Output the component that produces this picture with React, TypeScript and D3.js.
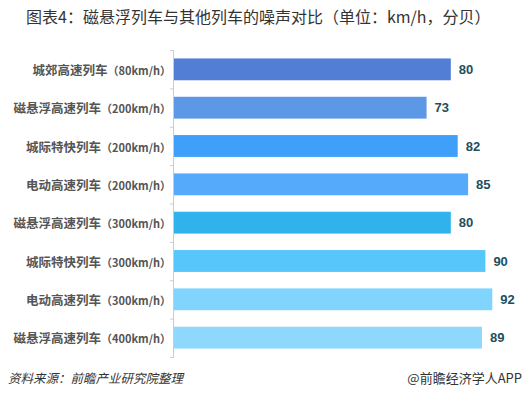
import { useEffect, useRef } from "react";
import * as d3 from "d3";

const trains = ["城郊高速列车", "磁悬浮高速列车", "城际特快列车", "电动高速列车", "磁悬浮高速列车", "城际特快列车", "电动高速列车", "磁悬浮高速列车"];
const speeds = ["80km/h", "200km/h", "200km/h", "200km/h", "300km/h", "300km/h", "300km/h", "400km/h"];
const noise = [80, 73, 82, 85, 80, 90, 92, 89];
const barColors = ["#527fd5", "#5c98e5", "#3fa0fb", "#55aafb", "#30b3ec", "#56c6fb", "#80d4fd", "#8dd8fc"];

const W = 524;
const H = 399;
const cjk = "'Noto Sans CJK SC', 'Microsoft YaHei', sans-serif";

function App() {
    const ref = useRef<SVGSVGElement>(null);

    useEffect(() => {
        const svg = d3.select(ref.current);
        svg.selectAll("*").remove();

        const left = 174;
        const top = 50;
        const bottom = 357;
        const ids = noise.map((_, i) => String(i));

        const x = d3.scaleLinear().domain([0, 100]).range([left, left + 346]);
        const y = d3.scaleBand().domain(ids).range([top, bottom]).paddingInner(0.43).paddingOuter(0.22);
        const rows = d3.scaleBand().domain(ids).range([top, bottom]);

        // title
        svg.append("text")
            .attr("x", 26)
            .attr("y", 23)
            .attr("font-family", cjk)
            .attr("font-size", 16)
            .attr("fill", "#333")
            .text("图表4：磁悬浮列车与其他列车的噪声对比（单位：km/h，分贝）");

        // axis line + ticks
        svg.append("line")
            .attr("x1", left - 0.5).attr("x2", left - 0.5)
            .attr("y1", top).attr("y2", bottom)
            .attr("stroke", "#ccc");
        svg.append("g")
            .selectAll("line")
            .data(ids.concat(["end"]))
            .join("line")
            .attr("x1", left - 4).attr("x2", left)
            .attr("y1", (d) => (d === "end" ? bottom : (rows(d) as number)) + 0.5)
            .attr("y2", (d) => (d === "end" ? bottom : (rows(d) as number)) + 0.5)
            .attr("stroke", "#ccc");

        // bars
        svg.append("g")
            .selectAll("rect")
            .data(noise)
            .join("rect")
            .attr("x", x(0))
            .attr("y", (_, i) => y(String(i)) as number)
            .attr("width", (d) => x(d) - x(0))
            .attr("height", y.bandwidth())
            .attr("fill", (_, i) => barColors[i]);

        // values
        svg.append("g")
            .selectAll("text")
            .data(noise)
            .join("text")
            .attr("x", (d) => x(d) + 8)
            .attr("y", (_, i) => (y(String(i)) as number) + y.bandwidth() / 2)
            .attr("dy", "0.36em")
            .attr("font-family", "Arial, 'Liberation Sans', sans-serif")
            .attr("font-weight", "bold")
            .attr("font-size", 13)
            .attr("fill", "#1d4e5e")
            .text((d) => d);

        // category labels
        const lab = svg.append("g")
            .selectAll("text")
            .data(trains)
            .join("text")
            .attr("x", 171)
            .attr("y", (_, i) => (y(String(i)) as number) + y.bandwidth() / 2)
            .attr("dy", "0.36em")
            .attr("text-anchor", "end")
            .attr("font-family", cjk)
            .attr("font-weight", "bold")
            .attr("fill", "#555");
        lab.append("tspan").attr("font-size", 12.5).text((d) => d);
        lab.append("tspan").attr("font-size", 11).text((_, i) => "（" + speeds[i] + "）");

        // footer
        svg.append("text")
            .attr("x", 8)
            .attr("y", 383)
            .attr("font-family", cjk)
            .attr("font-style", "italic")
            .attr("font-size", 12.5)
            .attr("fill", "#333")
            .text("资料来源：前瞻产业研究院整理");
        svg.append("text")
            .attr("x", 522)
            .attr("y", 383)
            .attr("text-anchor", "end")
            .attr("font-family", cjk)
            .attr("font-size", 13)
            .attr("fill", "#333")
            .text("@前瞻经济学人APP");
    }, []);

    return (
        <svg ref={ref} width={W} height={H} style={{ position: "absolute", left: 0, top: 0, background: "#fff" }}></svg>
    );
}

export default App;
